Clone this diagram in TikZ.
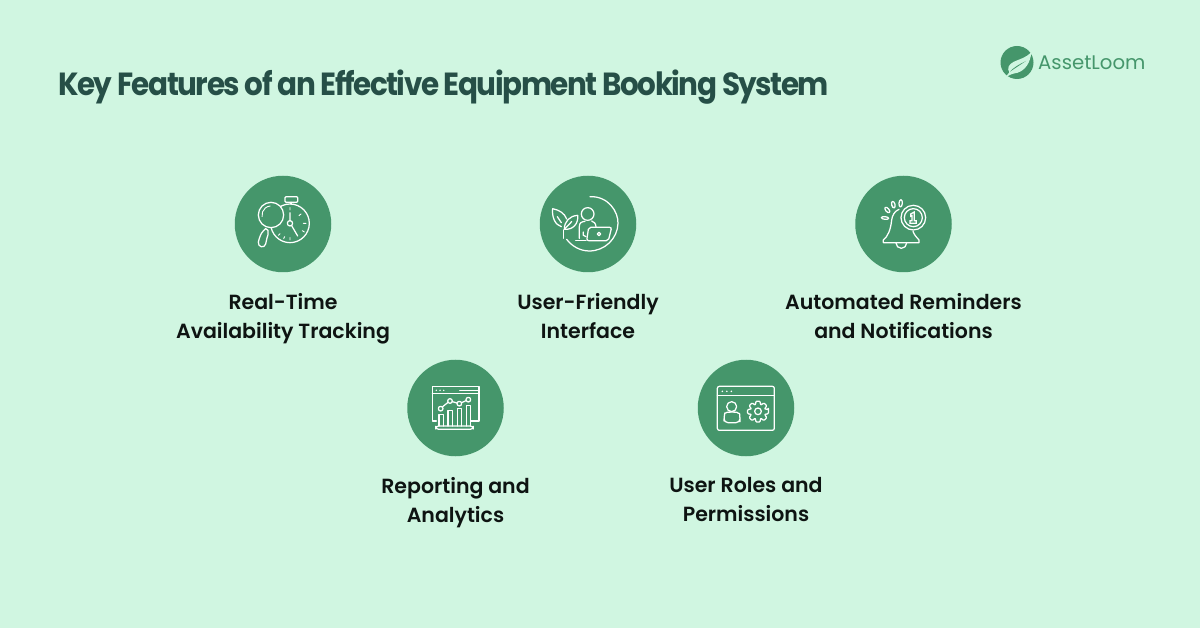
\documentclass[tikz,border=0pt]{standalone}
\usepackage{fontspec}
\setmainfont[FakeStretch=0.92,LetterSpace=-4.6]{Poppins}
\newfontfamily\brandfont{Poppins}
\newfontfamily\labelfont[BoldFont={Poppins SemiBold}]{Poppins}
\definecolor{bgmint}{HTML}{D0F6E1}
\definecolor{disc}{HTML}{45966B}
\definecolor{titlec}{HTML}{264F47}
\definecolor{labelc}{HTML}{0E1412}
\tikzset{
  disc/.style={circle,fill=disc,draw=none,minimum size=96.5pt,inner sep=0pt},
  feature/.style={align=center,text=labelc,font=\labelfont\bfseries\fontsize{20.5}{28.6}\selectfont,anchor=north,inner sep=0pt},
  ico/.style={draw=white,line width=1.25pt,line cap=round,line join=round,fill=none},
  zoomed/.style={x=0.3333pt,y=-0.3333pt}
}
\begin{document}
\begin{tikzpicture}[x=1pt,y=-1pt]
\useasboundingbox (0,0) rectangle (1200,628);
\fill[bgmint] (0,0) rectangle (1200,628);
\node[anchor=base west,inner sep=0pt,text=titlec,font=\bfseries\fontsize{32}{36}\selectfont] (title) at (58,95.5) {Key Features of an Effective Equipment Booking System};
% logo
\node[circle,fill=disc,minimum size=33pt,inner sep=0pt] (logo) at (1017,62.5) {};
\begin{scope}[shift={(990,35)},zoomed]
\fill[bgmint] (42,130) .. controls (50,122) and (54,118) .. (58,112) .. controls (50,100) and (56,88) .. (72,80) .. controls (90,72) and (108,68) .. (124,52) .. controls (122,78) and (108,112) .. (70,116) .. controls (62,118) and (52,124) .. (42,130) -- cycle;
\draw[disc,line width=1pt,line cap=round] (60,110) .. controls (72,96) and (88,88) .. (108,78);
\end{scope}
\node[anchor=west,inner sep=0pt,text=disc,font=\brandfont\fontsize{19.7}{24}\selectfont] (brand) at (1038,63) {AssetLoom};
% discs
\node[disc] (d1) at (283,224) {};
\node[disc] (d2) at (588,224) {};
\node[disc] (d3) at (903.5,224) {};
\node[disc] (d4) at (455.5,408) {};
\node[disc] (d5) at (746,408) {};
% labels
\node[feature] (l1) at (283,293.5) {Real-Time\\Availability Tracking};
\node[feature] (l2) at (588,293.5) {User-Friendly\\Interface};
\node[feature] (l3) at (903.5,293.5) {Automated Reminders\\and Notifications};
\node[feature] (l4) at (455.5,477.5) {Reporting and\\Analytics};
\node[feature] (l5) at (746,477.5) {User Roles and\\Permissions};
% icon 1
\begin{scope}[shift={(225,170)},zoomed]
\draw[ico] (195,160) circle[radius=58];
\draw[ico,fill=disc] (138,135) circle[radius=38];
\draw[ico,line width=0.9pt] (138,135) +(170:27) arc[start angle=170,end angle=265,radius=27];
\draw[ico] (122,176) -- (129,181) .. controls (132,190) and (128,196) .. (126,204) -- (122,222) .. controls (118,236) and (98,232) .. (100,216) .. controls (104,200) and (108,190) .. (114,184) -- (122,176);
\draw[ico,rounded corners=1pt] (180,80) rectangle (218,97);
\draw[ico] (198,97) -- (198,102);
\draw[ico] (195,160) circle[radius=8];
\draw[ico] (195,152) -- (195,128) (200,167) -- (218,198);
\draw[ico,line width=.9pt] (195,113) -- (195,120) (228,132) -- (222,137) (243,160) -- (235,160) (238,186) -- (232,182) (195,210) -- (195,203) (176,206) -- (179,200) (160,196) -- (165,191);
\end{scope}
% icon 2
\begin{scope}[shift={(530,170)},zoomed]
\draw[ico] (180,80) .. controls (235,78) and (265,125) .. (264,160) .. controls (263,205) and (225,243) .. (178,243) .. controls (150,243) and (125,228) .. (110,208);
\draw[ico] (173,132) circle[radius=19];
\draw[ico] (148,205) -- (148,170) .. controls (148,158) and (155,155) .. (165,154) (185,153) .. controls (192,155) and (197,160) .. (198,170);
\draw[ico] (160,186) -- (160,196) -- (168,200);
\draw[ico] (137,212) -- (168,212);
\draw[ico,rounded corners=2pt] (170,212) -- (176,172) -- (245,172) -- (235,212) -- cycle;
\draw[ico] (207,192) circle[radius=5];
\draw[ico] (103,178) .. controls (103,155) and (118,138) .. (143,136) .. controls (146,160) and (130,180) .. (103,178) -- cycle;
\draw[ico] (103,178) -- (125,155);
\draw[ico] (100,180) -- (100,205);
\draw[ico] (94,170) .. controls (75,165) and (65,140) .. (68,116) .. controls (88,120) and (104,130) .. (110,147);
\draw[ico] (82,140) -- (94,158);
\end{scope}
% icon 3
\begin{scope}[shift={(845,170)},zoomed]
\draw[ico] (162,118) .. controls (148,124) and (142,136) .. (140,150) .. controls (137,180) and (128,200) .. (115,210) -- (115,218) -- (222,218) -- (222,210) .. controls (215,203) and (208,195) .. (204,184);
\draw[ico] (153,219) arc[start angle=180,end angle=0,radius=16];
\draw[ico] (205,143) circle[radius=37];
\draw[ico] (205,143) circle[radius=27];
\draw[ico,line join=miter] (197,132) -- (208,126) -- (208,152) -- (214,152) -- (214,160) -- (195,160) -- (195,152) -- (201,152) -- (201,137) -- (197,139) -- cycle;
\draw[ico,rotate around={-5:(167,100)}] (167,100) ellipse[x radius=5,y radius=11];
\draw[ico,rotate around={15:(145,104)}] (145,104) ellipse[x radius=5,y radius=10];
\draw[ico,rotate around={40:(127,120)}] (127,120) ellipse[x radius=5,y radius=10];
\draw[ico,rotate around={85:(120,144)}] (120,144) ellipse[x radius=4,y radius=11];
\end{scope}
% icon 4
\begin{scope}[shift={(398,352)},zoomed]
\draw[ico] (115,207) -- (103,207) -- (103,104) -- (243,104) -- (243,207) -- (220,207);
\draw[ico] (103,125) -- (243,125);
\draw[ico,line width=.9pt] (185,115) -- (243,115);
\draw[ico,line width=1.6pt,dash pattern=on 0pt off 3.7pt] (115,115) -- (139,115);
\draw[ico] (128,170) circle[radius=7] (156,147) circle[radius=7] (184,155) circle[radius=7] (211,143) circle[radius=7];
\draw[ico] (133,165) -- (150,151) (163,149) -- (177,153) (191,152) -- (204,146);
\draw[ico] (123,222) -- (123,188) -- (137,188) -- (137,222);
\draw[ico] (150,222) -- (150,175) -- (164,175) -- (164,222);
\draw[ico] (178,222) -- (178,170) -- (191,170) -- (191,222);
\draw[ico] (205,222) -- (205,160) -- (218,160) -- (218,222);
\draw[ico,rounded corners=3pt] (113,222) rectangle (226,232);
\end{scope}
% icon 5
\begin{scope}[shift={(688,352)},zoomed]
\draw[ico,rounded corners=2pt] (88,103) rectangle (259,235);
\draw[ico] (88,130) -- (259,130);
\draw[ico,line width=1.7pt,dash pattern=on 0pt off 4.5pt] (103,118) -- (132,118);
\draw[ico] (131,164) circle[radius=15];
\draw[ico,rounded corners=4pt] (108,212) -- (108,195) .. controls (110,185) and (118,181) .. (128,180) -- (135,180) .. controls (147,181) and (155,187) .. (156,197) -- (156,212) -- cycle;
\draw[ico] (210,178) circle[radius=10];
\draw[ico,rounded corners=1pt] ([shift={(210,179)}]-12:32)
  \foreach \a in {0,45,...,315} {
    -- ([shift={(210,179)}]\a-12:32) -- ([shift={(210,179)}]\a+12:32)
    -- ([shift={(210,179)}]\a+18:23) -- ([shift={(210,179)}]\a+27:23)
  } -- cycle;
\end{scope}
\end{tikzpicture}
\end{document}
